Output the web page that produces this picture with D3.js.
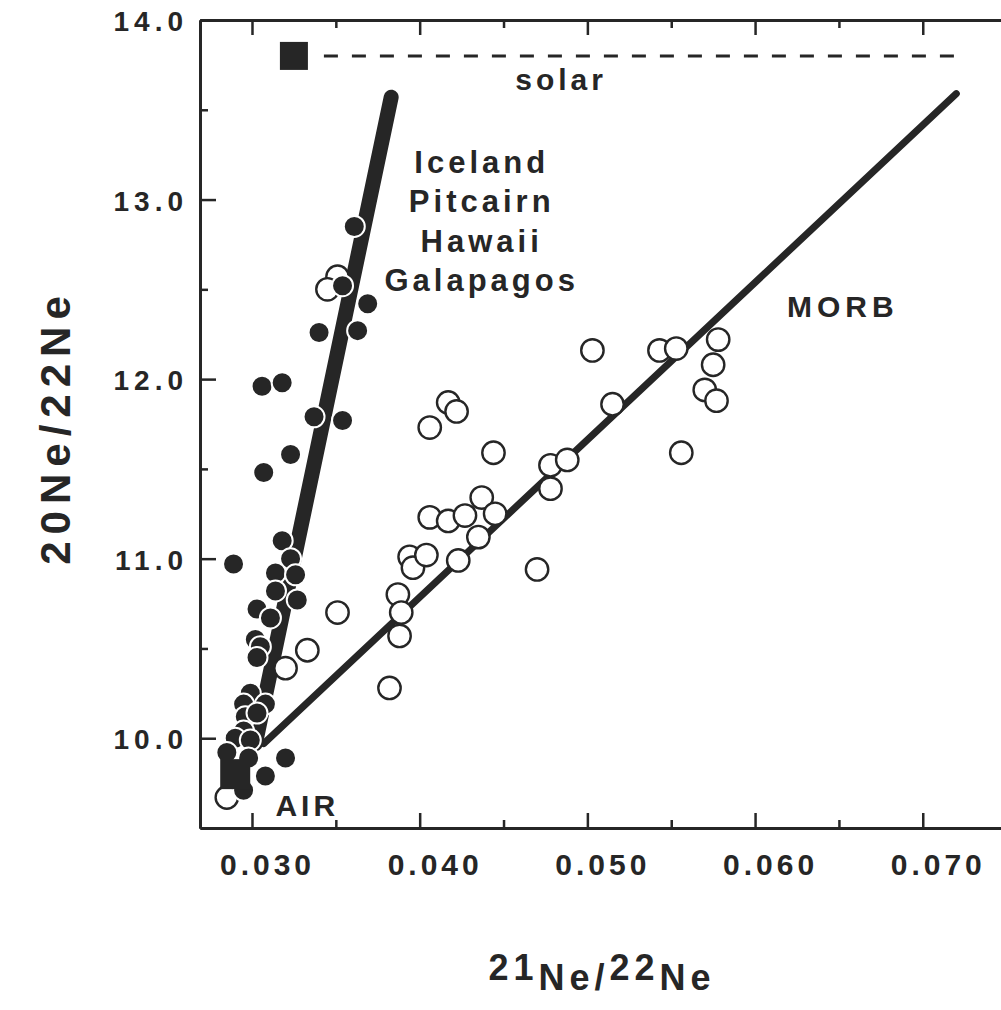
<!DOCTYPE html>
<html>
<head>
<meta charset="utf-8">
<script src="https://cdn.jsdelivr.net/npm/d3@7"></script>
<style>
  body { margin: 0; background: #fff; }
  svg text { font-family: "Liberation Sans", Arial, sans-serif; font-weight: bold; fill: #262626; }
</style>
</head>
<body>
<svg id="chart" width="1001" height="1010"></svg>
<script>
/* globals d3 */

// tick values
const xMajor = [0.030, 0.040, 0.050, 0.060, 0.070];
const xMinor = [0.035, 0.045, 0.055, 0.065];
const yMajor = [10, 11, 12, 13, 14];
const yMinor = [10.5, 11.5, 12.5, 13.5];

// end members
const airPoint = [0.0290, 9.80];
const solarPoint = [0.0325, 13.80];
const solarLineEnd = 0.0724;

// correlation lines
const oibLine = [[0.0302, 9.97], [0.0383, 13.57]];
const morbLine = [[0.0307, 9.97], [0.0720, 13.59]];

// MORB samples (open circles), [21Ne/22Ne, 20Ne/22Ne]
const morbPoints = [
  [0.0503, 12.16], [0.0543, 12.16], [0.0553, 12.17], [0.0578, 12.22],
  [0.0575, 12.08], [0.0570, 11.94], [0.0577, 11.88], [0.0515, 11.86],
  [0.0556, 11.59], [0.0417, 11.87], [0.0422, 11.82], [0.0406, 11.73],
  [0.0444, 11.59], [0.0478, 11.52], [0.0488, 11.55], [0.0478, 11.39],
  [0.0470, 10.94], [0.0406, 11.23], [0.0417, 11.21], [0.0427, 11.24],
  [0.0437, 11.34], [0.0445, 11.25], [0.0435, 11.12], [0.0423, 10.99],
  [0.0394, 11.01], [0.0396, 10.95], [0.0404, 11.02], [0.0387, 10.80],
  [0.0389, 10.70], [0.0388, 10.57], [0.0382, 10.28], [0.0351, 10.70],
  [0.0333, 10.49], [0.0320, 10.39], [0.0285, 9.67],
  [0.0351, 12.57], [0.0345, 12.50]
];

// OIB samples: Iceland, Pitcairn, Hawaii, Galapagos (filled circles)
const oibPoints = [
  [0.0361, 12.85], [0.0354, 12.52], [0.0369, 12.42], [0.0340, 12.26],
  [0.0363, 12.27], [0.0306, 11.96], [0.0318, 11.98], [0.0337, 11.79],
  [0.0354, 11.77], [0.0323, 11.58], [0.0307, 11.48], [0.0318, 11.10],
  [0.0289, 10.97], [0.0323, 11.00], [0.0314, 10.92], [0.0326, 10.91],
  [0.0314, 10.82], [0.0327, 10.77], [0.0303, 10.72], [0.0311, 10.67],
  [0.0302, 10.55], [0.0305, 10.51], [0.0303, 10.45], [0.0299, 10.25],
  [0.0295, 10.19], [0.0308, 10.19], [0.0296, 10.12], [0.0303, 10.14],
  [0.0295, 10.04], [0.0290, 10.00], [0.0299, 9.99], [0.0285, 9.92],
  [0.0298, 9.89], [0.0320, 9.89], [0.0308, 9.79], [0.0295, 9.71]
];

const oibNames = ['Iceland', 'Pitcairn', 'Hawaii', 'Galapagos'];

const ink = '#262626';
const svg = d3.select('#chart');

const x = d3.scaleLinear().domain([0.0269, 0.0755]).range([200, 1015]);
const y = d3.scaleLinear().domain([9.5, 14.0]).range([828, 20]);

/* axes: ticks point inward, labels outside */
const styleAxis = (g) => {
  g.selectAll('.domain').attr('stroke', ink).attr('stroke-width', 3);
  g.selectAll('.tick line').attr('stroke', ink).attr('stroke-width', 2.5);
};

svg.append('g')
  .attr('transform', `translate(0,${y(9.5)})`)
  .call(d3.axisBottom(x).tickValues(xMajor).tickSize(-15).tickSizeOuter(0)
    .tickFormat(d3.format('.3f')))
  .call(styleAxis)
  .call((g) => g.selectAll('text')
    .attr('y', 47).attr('dy', 0).attr('dx', 15)
    .attr('font-size', 30).attr('letter-spacing', 4)
    .attr('fill', ink));

svg.append('g')
  .attr('transform', `translate(0,${y(9.5)})`)
  .call(d3.axisBottom(x).tickValues(xMinor).tickSize(-8).tickSizeOuter(0).tickFormat(''))
  .call(styleAxis);

svg.append('g')
  .attr('transform', `translate(0,${y(14)})`)
  .call(d3.axisTop(x).tickValues(xMajor).tickSize(-15).tickSizeOuter(0).tickFormat(''))
  .call(styleAxis);

svg.append('g')
  .attr('transform', `translate(0,${y(14)})`)
  .call(d3.axisTop(x).tickValues(xMinor).tickSize(-8).tickSizeOuter(0).tickFormat(''))
  .call(styleAxis);

svg.append('g')
  .attr('transform', `translate(${x(0.0269)},0)`)
  .call(d3.axisLeft(y).tickValues(yMajor).tickSize(-16).tickSizeOuter(0)
    .tickFormat(d3.format('.1f')))
  .call(styleAxis)
  .call((g) => g.selectAll('text')
    .attr('x', -12).attr('dy', '0.38em')
    .attr('font-size', 28).attr('letter-spacing', 5)
    .attr('fill', ink));

svg.append('g')
  .attr('transform', `translate(${x(0.0269)},0)`)
  .call(d3.axisLeft(y).tickValues(yMinor).tickSize(-8).tickSizeOuter(0).tickFormat(''))
  .call(styleAxis);

/* solar reference line */
svg.append('line')
  .attr('x1', x(solarPoint[0]) + 30)
  .attr('x2', x(solarLineEnd))
  .attr('y1', y(solarPoint[1]))
  .attr('y2', y(solarPoint[1]))
  .attr('stroke', ink)
  .attr('stroke-width', 3)
  .attr('stroke-dasharray', '14 14');

/* correlation lines */
const line = d3.line().x((d) => x(d[0])).y((d) => y(d[1]));

svg.append('path')
  .attr('d', line(oibLine))
  .attr('fill', 'none')
  .attr('stroke', ink)
  .attr('stroke-width', 15)
  .attr('stroke-linecap', 'round');

svg.append('path')
  .attr('d', line(morbLine))
  .attr('fill', 'none')
  .attr('stroke', ink)
  .attr('stroke-width', 7)
  .attr('stroke-linecap', 'round');

/* MORB: open circles */
svg.append('g')
  .selectAll('circle')
  .data(morbPoints)
  .join('circle')
  .attr('cx', (d) => x(d[0]))
  .attr('cy', (d) => y(d[1]))
  .attr('r', 11.2)
  .attr('fill', '#fff')
  .attr('stroke', ink)
  .attr('stroke-width', 2.4);

/* OIB: filled circles with white rim */
svg.append('g')
  .selectAll('circle')
  .data(oibPoints)
  .join('circle')
  .attr('cx', (d) => x(d[0]))
  .attr('cy', (d) => y(d[1]))
  .attr('r', 10.5)
  .attr('fill', ink)
  .attr('stroke', '#fff')
  .attr('stroke-width', 2);

/* end-member squares */
[airPoint, solarPoint].forEach((p, i) => {
  const s = i === 0 ? 30 : 28;
  svg.append('rect')
    .attr('x', x(p[0]) - s / 2)
    .attr('y', y(p[1]) - s / 2)
    .attr('width', s)
    .attr('height', s)
    .attr('fill', ink);
});

/* annotations */
svg.append('text')
  .attr('x', x(0.0457)).attr('y', y(13.61))
  .attr('font-size', 30).attr('letter-spacing', 4)
  .text('solar');

svg.append('text')
  .attr('x', x(0.0619)).attr('y', y(12.345))
  .attr('font-size', 30).attr('letter-spacing', 5)
  .text('MORB');

svg.append('text')
  .attr('x', x(0.0314)).attr('y', y(9.565))
  .attr('font-size', 30).attr('letter-spacing', 4)
  .text('AIR');

svg.append('g')
  .selectAll('text')
  .data(oibNames)
  .join('text')
  .attr('x', x(0.0437))
  .attr('y', (d, i) => y(13.15) + i * 39.5)
  .attr('text-anchor', 'middle')
  .attr('font-size', 31)
  .attr('letter-spacing', 4)
  .text((d) => d);

/* axis titles */
svg.append('text')
  .attr('transform', 'translate(70,427) rotate(-90)')
  .attr('text-anchor', 'middle')
  .attr('font-size', 42)
  .attr('letter-spacing', 7)
  .text('20Ne/22Ne');

const xTitle = svg.append('text')
  .attr('x', 602)
  .attr('y', 980)
  .attr('text-anchor', 'middle')
  .attr('font-size', 36)
  .attr('letter-spacing', 5);
xTitle.append('tspan').text('21');
xTitle.append('tspan').attr('dy', 10).text('Ne/');
xTitle.append('tspan').attr('dy', -10).text('22');
xTitle.append('tspan').attr('dy', 10).text('Ne');
</script>
</body>
</html>
